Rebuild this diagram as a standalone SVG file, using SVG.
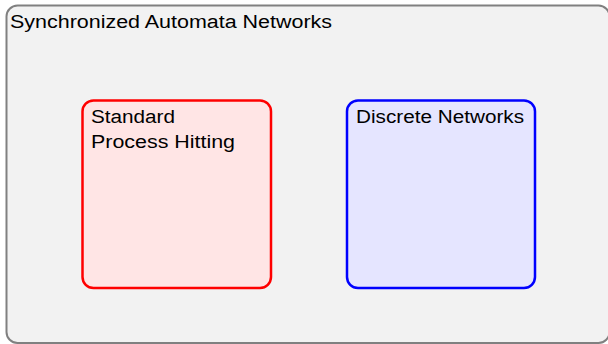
<svg xmlns="http://www.w3.org/2000/svg" width="608" height="344" viewBox="0 0 608 344">
  <style>
    .lbl { font-family: "Liberation Sans", "DejaVu Sans", sans-serif; font-size: 18px; fill: #000; }
    .frame { stroke-width: 2.5; }
  </style>
  <rect width="608" height="344" fill="#ffffff"/>
  <g id="san">
    <rect x="6.5" y="5.5" width="603" height="337.5" rx="11" fill="#f2f2f2" stroke="#808080" stroke-width="2"/>
    <text class="lbl" x="10" y="28" textLength="322" lengthAdjust="spacingAndGlyphs">Synchronized Automata Networks</text>
  </g>
  <g id="ph">
    <rect class="frame" x="82.5" y="100.5" width="188.5" height="187.5" rx="11" fill="#ffe5e5" stroke="#ff0000"/>
    <text class="lbl" x="91" y="123" textLength="84" lengthAdjust="spacingAndGlyphs">Standard</text>
    <text class="lbl" x="91" y="148" textLength="144" lengthAdjust="spacingAndGlyphs">Process Hitting</text>
  </g>
  <g id="dn">
    <rect class="frame" x="347" y="100.5" width="188" height="187.5" rx="11" fill="#e5e5ff" stroke="#0000ff"/>
    <text class="lbl" x="356" y="123" textLength="168" lengthAdjust="spacingAndGlyphs">Discrete Networks</text>
  </g>
  <g id="connectors"/>
</svg>
